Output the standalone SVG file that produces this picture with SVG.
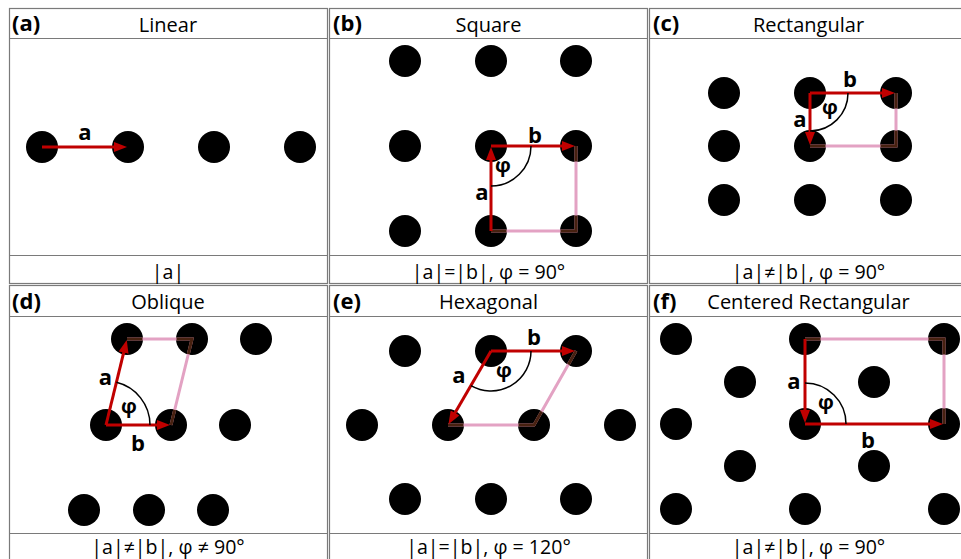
<svg xmlns="http://www.w3.org/2000/svg" width="961" height="559" viewBox="0 0 961 559">
<defs>
<marker id="ah" markerUnits="userSpaceOnUse" markerWidth="14" markerHeight="10" refX="1" refY="5" orient="auto">
<path d="M0,0 L13,5 L0,10 z" fill="#c00000"/>
</marker>
<style>
.cell{fill:#fff;stroke:#7a7a7a;stroke-width:1.2}
.sep{stroke:#7a7a7a;stroke-width:1.2}
.dot{fill:#000}
.vec{stroke:#c00000;stroke-width:3;fill:none;marker-end:url(#ah)}
.cellln{stroke:#e3a2c3;stroke-width:3;fill:none}
.cellin{stroke:#472110;stroke-width:3;fill:none}
.arc{stroke:#000;stroke-width:1.5;fill:none}
.tag{font-family:"Open Sans","Liberation Sans",sans-serif;font-weight:bold;font-size:22px;fill:#000}
.title{font-family:"Open Sans","Liberation Sans",sans-serif;font-size:20px;fill:#000;text-anchor:middle}
.cap{font-family:"Open Sans","Liberation Sans",sans-serif;font-size:19.6px;fill:#000;text-anchor:middle}
.lbl{font-family:"Open Sans","Liberation Sans",sans-serif;font-weight:bold;font-size:22px;fill:#000;text-anchor:middle}
.phi{font-family:"Open Sans","Liberation Sans",sans-serif;font-weight:bold;font-size:20px;fill:#000;text-anchor:middle}
</style>
</defs>
<rect width="961" height="559" fill="#fff"/>

<g id="panel-a">
<rect class="cell" x="9.5" y="8.5" width="318" height="275"/>
<line class="sep" x1="9.5" y1="38.5" x2="327.5" y2="38.5"/>
<line class="sep" x1="9.5" y1="255.5" x2="327.5" y2="255.5"/>
<text class="tag" x="12" y="31">(a)</text>
<text class="title" x="168" y="31.5">Linear</text>
<text class="cap" x="168" y="279">|a|</text>
<circle class="dot" cx="42" cy="147" r="16"/>
<circle class="dot" cx="128" cy="147" r="16"/>
<circle class="dot" cx="214" cy="147" r="16"/>
<circle class="dot" cx="300" cy="147" r="16"/>
<g class="connectors">
<line class="vec" x1="42" y1="147" x2="115" y2="147"/>
</g>
<text class="lbl" x="85" y="140">a</text>
</g>

<g id="panel-b">
<rect class="cell" x="329.5" y="8.5" width="318" height="275"/>
<line class="sep" x1="329.5" y1="38.5" x2="647.5" y2="38.5"/>
<line class="sep" x1="329.5" y1="255.5" x2="647.5" y2="255.5"/>
<text class="tag" x="333" y="31">(b)</text>
<text class="title" x="488.5" y="31.5">Square</text>
<text class="cap" x="488.5" y="279">|a|=|b|, φ = 90°</text>
<circle class="dot" cx="405" cy="61" r="16"/>
<circle class="dot" cx="491" cy="61" r="16"/>
<circle class="dot" cx="576" cy="61" r="16"/>
<circle class="dot" cx="405" cy="146" r="16"/>
<circle class="dot" cx="491" cy="146" r="16"/>
<circle class="dot" cx="576" cy="146" r="16"/>
<circle class="dot" cx="405" cy="231" r="16"/>
<circle class="dot" cx="491" cy="231" r="16"/>
<circle class="dot" cx="576" cy="231" r="16"/>
<g class="connectors">
<path class="cellln" d="M576,146 L576,231 L491,231"/>
<path class="cellin" d="M576,146 L576,161.5 M576,215.5 L576,231 L560.5,231 M506.5,231 L491,231"/>
<line class="vec" x1="491" y1="231" x2="491" y2="159"/>
<line class="vec" x1="491" y1="146" x2="563" y2="146"/>
<path class="arc" d="M531,146 A40,40 0 0 1 491,186"/>
</g>
<text class="lbl" x="535" y="143">b</text>
<text class="lbl" x="482" y="200">a</text>
<text class="phi" x="503" y="172">φ</text>
</g>

<g id="panel-c">
<rect class="cell" x="649.5" y="8.5" width="320" height="275"/>
<line class="sep" x1="649.5" y1="38.5" x2="969.5" y2="38.5"/>
<line class="sep" x1="649.5" y1="255.5" x2="969.5" y2="255.5"/>
<text class="tag" x="653" y="31">(c)</text>
<text class="title" x="808.5" y="31.5">Rectangular</text>
<text class="cap" x="808.5" y="279">|a|≠|b|, φ = 90°</text>
<circle class="dot" cx="724" cy="93" r="16"/>
<circle class="dot" cx="810" cy="93" r="16"/>
<circle class="dot" cx="896" cy="93" r="16"/>
<circle class="dot" cx="724" cy="146" r="16"/>
<circle class="dot" cx="810" cy="146" r="16"/>
<circle class="dot" cx="896" cy="146" r="16"/>
<circle class="dot" cx="724" cy="200" r="16"/>
<circle class="dot" cx="810" cy="200" r="16"/>
<circle class="dot" cx="896" cy="200" r="16"/>
<g class="connectors">
<path class="cellln" d="M896,93 L896,146 L810,146"/>
<path class="cellin" d="M896,93 L896,108.5 M896,130.5 L896,146 L880.5,146 M825.5,146 L810,146"/>
<line class="vec" x1="810" y1="93" x2="810" y2="133"/>
<line class="vec" x1="810" y1="93" x2="883" y2="93"/>
<path class="arc" d="M848,93 A38,38 0 0 1 810,131"/>
</g>
<text class="lbl" x="850" y="87">b</text>
<text class="lbl" x="800" y="127">a</text>
<text class="phi" x="830" y="114">φ</text>
</g>

<g id="panel-d">
<rect class="cell" x="9.5" y="285.5" width="318" height="280"/>
<line class="sep" x1="9.5" y1="316.5" x2="327.5" y2="316.5"/>
<line class="sep" x1="9.5" y1="533.5" x2="327.5" y2="533.5"/>
<text class="tag" x="12" y="309">(d)</text>
<text class="title" x="168" y="309">Oblique</text>
<text class="cap" x="168" y="554">|a|≠|b|, φ ≠ 90°</text>
<circle class="dot" cx="127" cy="339" r="16"/>
<circle class="dot" cx="192" cy="339" r="16"/>
<circle class="dot" cx="256" cy="339" r="16"/>
<circle class="dot" cx="106" cy="425" r="16"/>
<circle class="dot" cx="171" cy="425" r="16"/>
<circle class="dot" cx="235" cy="425" r="16"/>
<circle class="dot" cx="84" cy="510" r="16"/>
<circle class="dot" cx="149" cy="510" r="16"/>
<circle class="dot" cx="213" cy="510" r="16"/>
<g class="connectors">
<path class="cellln" d="M127,339 L192,339 L171,425"/>
<path class="cellin" d="M142.5,339 L127,339 M176.5,339 L192,339 L188.3,354.1 M174.7,409.9 L171,425"/>
<line class="vec" x1="106" y1="425" x2="123.9" y2="351.6"/>
<line class="vec" x1="106" y1="425" x2="158" y2="425"/>
<path class="arc" d="M150,425 A44,44 0 0 0 116.4,382.3"/>
</g>
<text class="lbl" x="105.5" y="385">a</text>
<text class="lbl" x="138" y="451">b</text>
<text class="phi" x="129" y="413">φ</text>
</g>

<g id="panel-e">
<rect class="cell" x="329.5" y="285.5" width="318" height="280"/>
<line class="sep" x1="329.5" y1="316.5" x2="647.5" y2="316.5"/>
<line class="sep" x1="329.5" y1="533.5" x2="647.5" y2="533.5"/>
<text class="tag" x="333" y="309">(e)</text>
<text class="title" x="488.5" y="309">Hexagonal</text>
<text class="cap" x="488.5" y="554">|a|=|b|, φ = 120°</text>
<circle class="dot" cx="405" cy="351" r="16"/>
<circle class="dot" cx="491" cy="351" r="16"/>
<circle class="dot" cx="576" cy="351" r="16"/>
<circle class="dot" cx="362" cy="425" r="16"/>
<circle class="dot" cx="448" cy="425" r="16"/>
<circle class="dot" cx="534" cy="425" r="16"/>
<circle class="dot" cx="620" cy="425" r="16"/>
<circle class="dot" cx="405" cy="499" r="16"/>
<circle class="dot" cx="491" cy="499" r="16"/>
<circle class="dot" cx="576" cy="499" r="16"/>
<g class="connectors">
<path class="cellln" d="M576,351 L534,425 L448,425"/>
<path class="cellin" d="M576,351 L568.35,364.5 M541.65,411.5 L534,425 L518.5,425 M463.5,425 L448,425"/>
<line class="vec" x1="491" y1="351" x2="454.5" y2="413.8"/>
<line class="vec" x1="491" y1="351" x2="563" y2="351"/>
<path class="arc" d="M531,351 A40,40 0 0 1 471,385.6"/>
</g>
<text class="lbl" x="534" y="345">b</text>
<text class="lbl" x="459" y="383">a</text>
<text class="phi" x="504" y="377">φ</text>
</g>

<g id="panel-f">
<rect class="cell" x="649.5" y="285.5" width="320" height="280"/>
<line class="sep" x1="649.5" y1="316.5" x2="969.5" y2="316.5"/>
<line class="sep" x1="649.5" y1="533.5" x2="969.5" y2="533.5"/>
<text class="tag" x="653" y="309">(f)</text>
<text class="title" x="808.5" y="309">Centered Rectangular</text>
<text class="cap" x="808.5" y="554">|a|≠|b|, φ = 90°</text>
<circle class="dot" cx="676" cy="339" r="16"/>
<circle class="dot" cx="805" cy="339" r="16"/>
<circle class="dot" cx="944" cy="339" r="16"/>
<circle class="dot" cx="740" cy="382" r="16"/>
<circle class="dot" cx="874" cy="382" r="16"/>
<circle class="dot" cx="676" cy="424" r="16"/>
<circle class="dot" cx="805" cy="424" r="16"/>
<circle class="dot" cx="944" cy="424" r="16"/>
<circle class="dot" cx="740" cy="466" r="16"/>
<circle class="dot" cx="874" cy="466" r="16"/>
<circle class="dot" cx="676" cy="509" r="16"/>
<circle class="dot" cx="805" cy="509" r="16"/>
<circle class="dot" cx="944" cy="509" r="16"/>
<g class="connectors">
<path class="cellln" d="M805,339 L944,339 L944,424"/>
<path class="cellin" d="M805,339 L820.5,339 M928.5,339 L944,339 L944,354.5 M944,408.5 L944,424"/>
<line class="vec" x1="805" y1="339" x2="805" y2="411"/>
<line class="vec" x1="805" y1="424" x2="931" y2="424"/>
<path class="arc" d="M846,424 A41,41 0 0 0 805,383"/>
</g>
<text class="lbl" x="794" y="389">a</text>
<text class="lbl" x="868" y="448">b</text>
<text class="phi" x="826" y="409">φ</text>
</g>
</svg>
